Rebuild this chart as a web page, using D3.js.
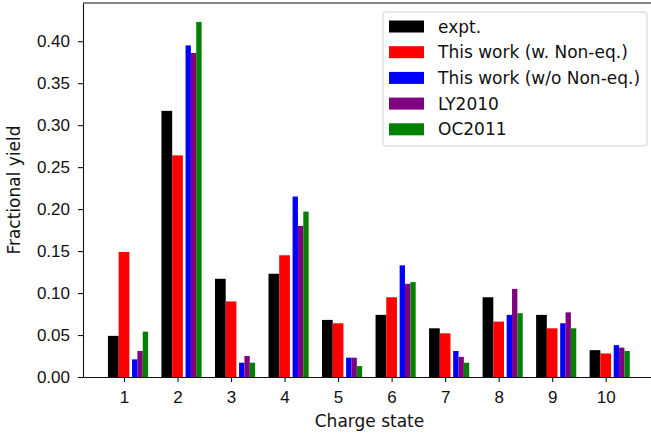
<!DOCTYPE html>
<html>
<head>
<meta charset="utf-8">
<script src="https://cdn.jsdelivr.net/npm/d3@7"></script>
<style>
    body { margin: 0; background: #fff; }
    svg { display: block; font-family: "DejaVu Sans", sans-serif; }
    .axis text { font-size: 17px; fill: #111; }
    .axis path, .axis line { stroke: #111; stroke-width: 1.1; }
</style>
</head>
<body>
<svg id="chart" width="651" height="436"></svg>
<script>
// Charge states on the x axis
let chargeStates = [1, 2, 3, 4, 5, 6, 7, 8, 9, 10];

// Fractional yields
let expt      = [0.049, 0.317, 0.117, 0.123, 0.068, 0.074, 0.058, 0.095, 0.074, 0.032];
let withNoneq = [0.149, 0.264, 0.090, 0.145, 0.064, 0.095, 0.052, 0.066, 0.058, 0.028];
let woNoneq   = [0.021, 0.395, 0.017, 0.215, 0.023, 0.133, 0.031, 0.074, 0.064, 0.038];
let ly2010    = [0.031, 0.386, 0.025, 0.180, 0.023, 0.111, 0.024, 0.105, 0.077, 0.035];
let oc2011    = [0.054, 0.423, 0.017, 0.197, 0.013, 0.113, 0.017, 0.076, 0.058, 0.031];

let yTicks = [0.00, 0.05, 0.10, 0.15, 0.20, 0.25, 0.30, 0.35, 0.40];

let seriesNames = ["expt.", "This work (w. Non-eq.)", "This work (w/o Non-eq.)", "LY2010", "OC2011"];
let seriesColors = ["black", "red", "blue", "purple", "green"];

// bar placement relative to the category (in x units)
let barOffsets = [-0.2, 0, 0.2, 0.3, 0.4];
let barWidths = [0.2, 0.2, 0.1, 0.1, 0.1];

let series = [expt, withNoneq, woNoneq, ly2010, oc2011];

let margin = { top: 3, left: 83 };
let plotRight = 656;   // right spine falls outside the picture
let plotBottom = 377;

let svg = d3.select("#chart");

let x = d3.scaleLinear().domain([0.234, 10.94]).range([margin.left, plotRight]);
let y = d3.scaleLinear().domain([0, 0.4455]).range([plotBottom, margin.top]);

// Bars
series.forEach((values, s) => {
    svg.append("g")
        .selectAll("rect")
        .data(values)
        .join("rect")
        .attr("x", (d, i) => x(chargeStates[i] + barOffsets[s] - barWidths[s] / 2))
        .attr("width", (d, i) => x(chargeStates[i] + barOffsets[s] + barWidths[s] / 2) - x(chargeStates[i] + barOffsets[s] - barWidths[s] / 2))
        .attr("y", d => y(d))
        .attr("height", d => y(0) - y(d))
        .attr("fill", seriesColors[s]);
});

// Axes
svg.append("g")
    .attr("class", "axis")
    .attr("transform", `translate(0,${plotBottom})`)
    .call(d3.axisBottom(x).tickValues(chargeStates).tickSize(5).tickPadding(9).tickSizeOuter(0));

svg.append("g")
    .attr("class", "axis")
    .attr("transform", `translate(${margin.left},0)`)
    .call(d3.axisLeft(y).tickValues(yTicks).tickFormat(d3.format(".2f")).tickSize(5).tickPadding(8).tickSizeOuter(0));

// top spine
svg.append("line")
    .attr("x1", margin.left).attr("x2", plotRight)
    .attr("y1", margin.top).attr("y2", margin.top)
    .attr("stroke", "#111").attr("stroke-width", 1.1);

// Axis labels
svg.append("text")
    .attr("x", (margin.left + plotRight) / 2)
    .attr("y", 427)
    .attr("text-anchor", "middle")
    .attr("font-size", "17px")
    .attr("fill", "#111")
    .text("Charge state");

svg.append("text")
    .attr("transform", `translate(20,${(margin.top + plotBottom) / 2}) rotate(-90)`)
    .attr("text-anchor", "middle")
    .attr("font-size", "17px")
    .attr("fill", "#111")
    .text("Fractional yield");

// Legend
let legend = svg.append("g").attr("transform", "translate(383,12)");

legend.append("rect")
    .attr("width", 264)
    .attr("height", 134)
    .attr("rx", 3)
    .attr("fill", "white")
    .attr("fill-opacity", 0.8)
    .attr("stroke", "#d0d0d0");

seriesNames.forEach((name, i) => {
    let row = legend.append("g").attr("transform", `translate(0,${14.5 + i * 25.7})`);
    row.append("rect")
        .attr("x", 6)
        .attr("y", -6)
        .attr("width", 35)
        .attr("height", 12)
        .attr("fill", seriesColors[i]);
    row.append("text")
        .attr("x", 55)
        .attr("y", 6)
        .attr("font-size", "17px")
        .attr("fill", "#111")
        .text(name);
});
</script>
</body>
</html>
